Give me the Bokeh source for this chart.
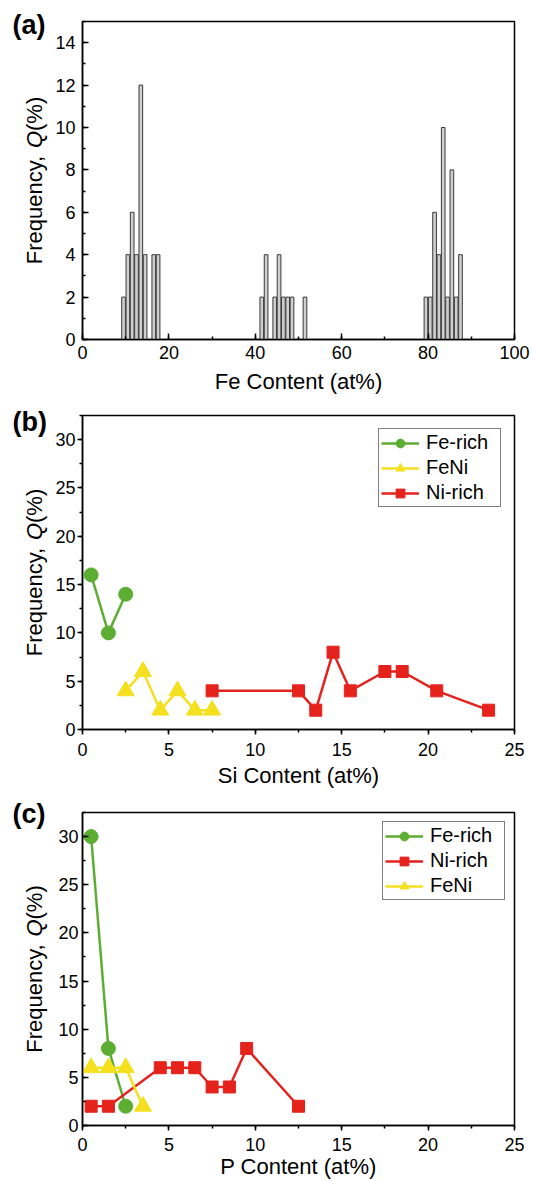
import math
from bokeh.plotting import figure
from bokeh.layouts import column, row
from bokeh.models import SingleIntervalTicker, Label, Range1d
from bokeh.embed import file_html
from bokeh.resources import INLINE

FONT = "Liberation Sans"

# ---------------- data ----------------
# (a) Fe content histogram (bin centres, at%) and frequency (%)
fe_bin_centers = [9.5, 10.5, 11.5, 12.5, 13.5, 14.5, 16.5, 17.5,
                  41.5, 42.5, 44.5, 45.5, 46.5, 47.5, 48.5, 51.5,
                  79.5, 80.5, 81.5, 82.5, 83.5, 84.5, 85.5, 86.5, 87.5]
fe_freq = [2, 4, 6, 4, 12, 4, 4, 4,
           2, 4, 2, 4, 2, 2, 2, 2,
           2, 2, 6, 4, 10, 2, 8, 2, 4]

# (b) Si content
si_fe_rich_x = [0.5, 1.5, 2.5]
si_fe_rich_y = [16, 10, 14]
si_feni_x = [2.5, 3.5, 4.5, 5.5, 6.5, 7.5]
si_feni_y = [4, 6, 2, 4, 2, 2]
si_ni_rich_x = [7.5, 12.5, 13.5, 14.5, 15.5, 17.5, 18.5, 20.5, 23.5]
si_ni_rich_y = [4, 4, 2, 8, 4, 6, 6, 4, 2]

# (c) P content
p_fe_rich_x = [0.5, 1.5, 2.5]
p_fe_rich_y = [30, 8, 2]
p_ni_rich_x = [0.5, 1.5, 4.5, 5.5, 6.5, 7.5, 8.5, 9.5, 12.5]
p_ni_rich_y = [2, 2, 6, 6, 6, 4, 4, 8, 2]
p_feni_x = [0.5, 1.5, 2.5, 3.5]
p_feni_y = [6, 6, 6, 2]

panel_letters = ["(a)", "(b)", "(c)"]
x_labels = ["Fe Content (at%)", "Si Content (at%)", "P Content (at%)"]

GREEN = "#5cae33"
YELLOW = "#f4e01f"
RED = "#e6221d"

SIDE_W = 52          # narrow left strip holding panel letters and y titles
MAIN_W = 478
LEFT = 82 - SIDE_W   # frame left edge at x = 82

# panel geometry: (top border, frame height, bottom border, right border)
GEOM = [(21, 318, 60, 12), (16, 314, 61, 16), (22, 313, 56, 16)]
TOTAL_H = sum(t + f + b for t, f, b, _ in GEOM)


def style(p, x_in, x_out, y_in, y_out, x_standoff, y_standoff, xl_standoff):
    p.xgrid.visible = False
    p.ygrid.visible = False
    p.outline_line_color = "black"
    p.outline_line_width = 1.5
    p.background_fill_color = "white"
    p.border_fill_color = "white"
    for ax in (p.xaxis[0], p.yaxis[0]):
        ax.axis_line_width = 1.5
        ax.axis_line_color = "black"
        ax.major_tick_line_width = 1.5
        ax.minor_tick_line_width = 1.5
        ax.major_tick_line_color = "black"
        ax.minor_tick_line_color = "black"
        ax.major_label_text_font = FONT
        ax.major_label_text_font_size = "18px"
        ax.major_label_text_color = "black"
        ax.axis_label_text_font = FONT
        ax.axis_label_text_font_size = "22px"
        ax.axis_label_text_font_style = "normal"
        ax.axis_label_text_color = "black"
    xa, ya = p.xaxis[0], p.yaxis[0]
    xa.major_tick_in, xa.major_tick_out = x_in, x_out
    xa.minor_tick_in, xa.minor_tick_out = (3 if x_in else 0), (3 if x_out else 0)
    ya.major_tick_in, ya.major_tick_out = y_in, y_out
    ya.minor_tick_in, ya.minor_tick_out = (3 if y_in else 0), (3 if y_out else 0)
    xa.major_label_standoff = x_standoff
    ya.major_label_standoff = y_standoff
    xa.axis_label_standoff = xl_standoff


def legend_style(p, margin):
    lg = p.legend[0]
    lg.location = "top_right"
    lg.margin = margin
    lg.border_line_color = "black"
    lg.border_line_width = 1
    lg.background_fill_color = "white"
    lg.background_fill_alpha = 1
    lg.label_text_font = FONT
    lg.label_text_font_size = "20px"
    lg.label_text_color = "black"
    lg.glyph_width = 38
    lg.glyph_height = 22
    lg.label_height = 20
    lg.label_width = 72
    lg.spacing = 2
    lg.padding = 2
    lg.label_standoff = 7


def make_fig(i, xr, yr):
    top, fh, bot, right = GEOM[i]
    return figure(width=MAIN_W, height=top + fh + bot, output_backend="svg",
                  toolbar_location=None, x_range=xr, y_range=yr,
                  min_border_left=LEFT, min_border_right=right,
                  min_border_top=top, min_border_bottom=bot)


# ---------------- panel (a) ----------------
pa = make_fig(0, Range1d(0, 100), Range1d(0, 15))
pa.vbar(x=fe_bin_centers, top=fe_freq, width=0.85, bottom=0,
        fill_color="#cfcfcf", line_color="#3a3a3a", line_width=1)
pa.xaxis.ticker = SingleIntervalTicker(interval=20, num_minor_ticks=2)
pa.yaxis.ticker = SingleIntervalTicker(interval=2, num_minor_ticks=2)
pa.xaxis.axis_label = x_labels[0]
style(pa, 6, 0, 6, 0, 6, 7, 7)

# ---------------- panel (b) ----------------
pb = make_fig(1, Range1d(0, 25), Range1d(0, 32.5))
pb.line(si_fe_rich_x, si_fe_rich_y, color=GREEN, line_width=2.5, legend_label="Fe-rich")
pb.scatter(si_fe_rich_x, si_fe_rich_y, marker="circle", size=14, fill_color=GREEN,
           line_color=GREEN, legend_label="Fe-rich")
pb.line(si_feni_x, si_feni_y, color=YELLOW, line_width=2.5, legend_label="FeNi")
pb.scatter(si_feni_x, si_feni_y, marker="triangle", size=17, fill_color=YELLOW,
           line_color=YELLOW, legend_label="FeNi")
pb.line(si_ni_rich_x, si_ni_rich_y, color=RED, line_width=2.5, legend_label="Ni-rich")
pb.scatter(si_ni_rich_x, si_ni_rich_y, marker="square", size=12, fill_color=RED,
           line_color=RED, legend_label="Ni-rich")
pb.xaxis.ticker = SingleIntervalTicker(interval=5, num_minor_ticks=2)
pb.yaxis.ticker = SingleIntervalTicker(interval=5, num_minor_ticks=2)
pb.xaxis.axis_label = x_labels[1]
style(pb, 0, 5, 0, 5, 8, 2, 4)
legend_style(pb, 13)

# ---------------- panel (c) ----------------
pc = make_fig(2, Range1d(0, 25), Range1d(0, 32.5))
pc.line(p_fe_rich_x, p_fe_rich_y, color=GREEN, line_width=2.5, legend_label="Fe-rich")
pc.scatter(p_fe_rich_x, p_fe_rich_y, marker="circle", size=14, fill_color=GREEN,
           line_color=GREEN, legend_label="Fe-rich")
pc.line(p_ni_rich_x, p_ni_rich_y, color=RED, line_width=2.5, legend_label="Ni-rich")
pc.scatter(p_ni_rich_x, p_ni_rich_y, marker="square", size=12, fill_color=RED,
           line_color=RED, legend_label="Ni-rich")
pc.line(p_feni_x, p_feni_y, color=YELLOW, line_width=2.5, legend_label="FeNi")
pc.scatter(p_feni_x, p_feni_y, marker="triangle", size=17, fill_color=YELLOW,
           line_color=YELLOW, legend_label="FeNi")
pc.xaxis.ticker = SingleIntervalTicker(interval=5, num_minor_ticks=2)
pc.yaxis.ticker = SingleIntervalTicker(interval=5, num_minor_ticks=2)
pc.xaxis.axis_label = x_labels[2]
style(pc, 0, 5, 6, 0, 7, 4, 0)
legend_style(pc, 9)

# ---------------- left strip: panel letters and "Frequency, Q(%)" ----------------
side = figure(width=SIDE_W, height=TOTAL_H, output_backend="svg", toolbar_location=None,
              x_range=Range1d(0, 1), y_range=Range1d(0, 1),
              x_axis_type=None, y_axis_type=None,
              min_border_left=0, min_border_right=0, min_border_top=0, min_border_bottom=0)
side.xgrid.visible = False
side.ygrid.visible = False
side.outline_line_color = None
side.background_fill_color = "white"
side.border_fill_color = "white"

YSIZE = 22
s = YSIZE / 1000.0
w1 = 5280 * s   # width of "Frequency, " (Arial metrics)
w2 = 778 * s    # "Q"
w3 = 1555 * s   # "(%)"
total_w = w1 + w2 + w3

letter_dy = [3, 6, 1.5]   # letter centre below the frame top
page_top = 0
for i, (top, fh, bot, _) in enumerate(GEOM):
    frame_top = page_top + top
    centre = frame_top + fh / 2
    start = centre + total_w / 2            # page y where the vertical text begins
    for txt, st, off in (("Frequency, ", "normal", 0), ("Q", "italic", w1), ("(%)", "normal", w1 + w2)):
        side.add_layout(Label(x=34, y=TOTAL_H - (start - off), x_units="screen", y_units="screen",
                              text=txt, angle=math.pi / 2, text_align="left",
                              text_baseline="middle", text_font=FONT,
                              text_font_size=f"{YSIZE}px", text_font_style=st,
                              text_color="black"))
    side.add_layout(Label(x=12, y=TOTAL_H - (frame_top + letter_dy[i]), x_units="screen",
                          y_units="screen", text=panel_letters[i], text_align="left",
                          text_baseline="middle", text_font=FONT, text_font_size="27px",
                          text_font_style="bold", text_color="black"))
    page_top += top + fh + bot

layout = row(side, column(pa, pb, pc, spacing=0), spacing=0)
open("out.html", "w").write(file_html(layout, INLINE))
